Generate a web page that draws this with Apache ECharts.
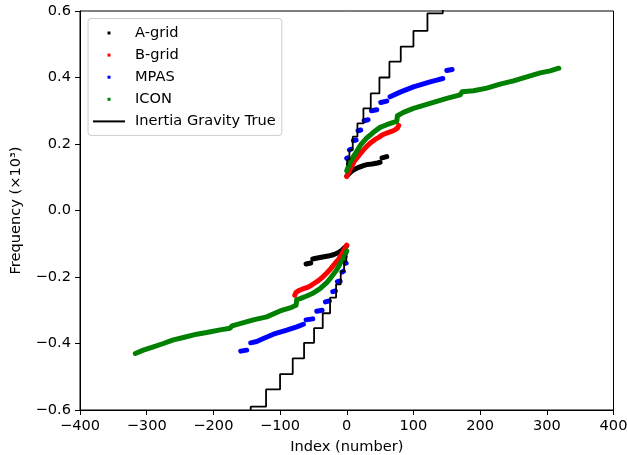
<!DOCTYPE html>
<html><head><meta charset="utf-8">
<script src="https://cdn.jsdelivr.net/npm/echarts@6/dist/echarts.min.js"></script>
<style>html,body{margin:0;padding:0;background:#fff}#c{width:627px;height:455px}</style>
</head><body><div id="c"></div>
<script>
// ---- data ----
const seriesNames = ['A-grid', 'B-grid', 'MPAS', 'ICON', 'Inertia Gravity True'];
const seriesColors = ['#000000', '#ff0000', '#0000ff', '#008000', '#000000'];

// A-grid: segments of [index, frequency]
const agridSegments = [
  [[0,0.104],[4,0.112],[8,0.119],[12,0.124],[16,0.128],[20,0.131],[25,0.135],[30,0.138],[38,0.140],[46,0.143],[50,0.145]],
  [[53,0.158],[60,0.162]],
  [[0,-0.106],[-4,-0.113],[-8,-0.121],[-14,-0.128],[-20,-0.133],[-28,-0.137],[-36,-0.140],[-44,-0.143],[-51,-0.146]],
  [[-54,-0.158],[-61,-0.161]]
];
// B-grid
const bgridSegments = [
  [[0,0.102],[4,0.120],[8,0.135],[12,0.150],[18,0.165],[24,0.180],[30,0.193],[36,0.204],[42,0.213],[48,0.220],[54,0.228],[60,0.233],[66,0.237],[72,0.242],[76,0.248],[78,0.256]],
  [[0,-0.104],[-4,-0.118],[-8,-0.132],[-12,-0.146],[-18,-0.160],[-24,-0.175],[-30,-0.188],[-36,-0.200],[-42,-0.210],[-48,-0.218],[-54,-0.226],[-60,-0.232],[-66,-0.236],[-72,-0.241],[-76,-0.246],[-78,-0.255]]
];
// MPAS
const mpasSegments = [
  [[0,0.157],[1,0.158]],
  [[4,0.182],[6,0.184]],
  [[10,0.210],[14,0.212]],
  [[17,0.240],[21,0.242]],
  [[26,0.270],[32,0.273]],
  [[37,0.300],[45,0.303]],
  [[51,0.325],[60,0.329]],
  [[65,0.342],[80,0.356],[100,0.372],[115,0.381],[125,0.387],[135,0.392],[144,0.397]],
  [[150,0.421],[158,0.424]],
  [[-1,-0.158],[-2,-0.159]],
  [[-5,-0.183],[-7,-0.185]],
  [[-10,-0.212],[-14,-0.214]],
  [[-17,-0.242],[-21,-0.244]],
  [[-26,-0.272],[-32,-0.275]],
  [[-37,-0.300],[-45,-0.303]],
  [[-51,-0.326],[-61,-0.329]],
  [[-65,-0.342],[-75,-0.350],[-90,-0.360],[-110,-0.372],[-125,-0.385],[-135,-0.394],[-144,-0.398]],
  [[-150,-0.420],[-159,-0.423]]
];
// ICON
const iconSegments = [
  [[0,0.120],[5,0.145],[10,0.162],[15,0.178],[20,0.195],[25,0.207],[30,0.218],[40,0.235],[50,0.250],[60,0.258],[70,0.265],[75,0.268],[76,0.285],[85,0.295],[100,0.307],[115,0.316],[130,0.325],[150,0.337],[170,0.348],[173,0.357],[190,0.360],[210,0.368],[230,0.380],[250,0.390],[270,0.402],[290,0.414],[305,0.420],[318,0.428]],
  [[0,-0.122],[-5,-0.145],[-10,-0.160],[-15,-0.178],[-20,-0.192],[-25,-0.205],[-30,-0.217],[-40,-0.235],[-50,-0.248],[-60,-0.257],[-70,-0.265],[-75,-0.268],[-76,-0.285],[-85,-0.293],[-100,-0.302],[-120,-0.320],[-140,-0.329],[-160,-0.340],[-172,-0.347],[-175,-0.354],[-190,-0.359],[-210,-0.367],[-225,-0.372],[-245,-0.382],[-260,-0.389],[-275,-0.400],[-290,-0.410],[-305,-0.420],[-317,-0.430]]
];
// Inertia Gravity True: levels (start index of each level, frequency)
const igLevelStartPos = [0,1,4,9,16,25,36,49,64,81,100,121,144,169];
const igLevelValPos   = [0.136,0.153,0.182,0.222,0.262,0.307,0.352,0.400,0.448,0.493,0.540,0.593,0.640];
const igLevelStartNeg = [0,-1,-4,-9,-16,-25,-36,-49,-64,-81,-100,-121,-144,-169];
const igLevelValNeg   = [-0.136,-0.153,-0.183,-0.222,-0.262,-0.309,-0.354,-0.398,-0.445,-0.492,-0.538,-0.590,-0.640];

// ---- chart ----
const FONT = 'DejaVu Sans';
const FS = 14.6;
function stepPoints(starts, vals) {
  const pts = [];
  for (let i = 0; i < vals.length; i++) {
    pts.push([starts[i], vals[i]]);
    pts.push([starts[i + 1], vals[i]]);
  }
  return pts;
}
function band(name, color, segs, z) {
  return segs.map(seg => ({
    type: 'line', name: name, data: seg, symbol: 'none', showSymbol: false,
    lineStyle: { color: color, width: 5, cap: 'round', join: 'round' },
    itemStyle: { color: color }, silent: true, animation: false, z: z
  }));
}
const series = [].concat(
  band(seriesNames[0], seriesColors[0], agridSegments, 2),
  band(seriesNames[1], seriesColors[1], bgridSegments, 3),
  band(seriesNames[2], seriesColors[2], mpasSegments, 4),
  band(seriesNames[3], seriesColors[3], iconSegments, 5),
  [stepPoints(igLevelStartPos, igLevelValPos), stepPoints(igLevelStartNeg, igLevelValNeg)].map(d => ({
    type: 'line', name: seriesNames[4], data: d, symbol: 'none', showSymbol: false,
    lineStyle: { color: seriesColors[4], width: 1.8 }, itemStyle: { color: seriesColors[4] },
    silent: true, animation: false, z: 6
  }))
);
const sq = 'path://M0,0M37,10M14.5,3.5h3v3h-3z';
const ln = 'path://M0,0M37,10M0,4h32v2h-32z';
function fmt(v, d) {
  if (Math.abs(v) < 1e-9) return (0).toFixed(d);
  const s = Math.abs(v).toFixed(d);
  return v < 0 ? '\u2212' + s : s;
}
const chart = echarts.init(document.getElementById('c'), null, { renderer: 'canvas' });
chart.setOption({
  animation: false,
  backgroundColor: '#ffffff',
  grid: { left: 80, right: 13.5, top: 11, bottom: 45, containLabel: false, outerBoundsMode: 'none',
          show: true, borderColor: '#000', borderWidth: 1, backgroundColor: 'transparent' },
  legend: {
    orient: 'vertical', left: 88, top: 18.5,
    padding: [7, 6, 6.5, 5], itemGap: 7.1, itemWidth: 37, itemHeight: 10,
    backgroundColor: 'rgba(255,255,255,0.8)', borderColor: '#cccccc', borderWidth: 1, borderRadius: 3,
    textStyle: { fontFamily: FONT, fontSize: FS, color: '#000', lineHeight: FS },
    itemStyle: { borderWidth: 0 },
    selectedMode: false,
    data: [
      { name: seriesNames[0], icon: sq },
      { name: seriesNames[1], icon: sq },
      { name: seriesNames[2], icon: sq },
      { name: seriesNames[3], icon: sq },
      { name: seriesNames[4], icon: ln }
    ]
  },
  xAxis: {
    type: 'value', min: -400, max: 400, interval: 100,
    name: 'Index (number)', nameLocation: 'middle', nameGap: 30,
    nameTextStyle: { fontFamily: FONT, fontSize: FS, color: '#000' },
    axisLine: { show: true, onZero: false, lineStyle: { color: '#000', width: 1 } },
    axisTick: { show: true, inside: false, length: 5, lineStyle: { color: '#000', width: 1 } },
    axisLabel: { fontFamily: FONT, fontSize: FS, color: '#000', margin: 9, formatter: v => fmt(v, 0) },
    splitLine: { show: false }
  },
  yAxis: {
    type: 'value', min: -0.6, max: 0.6, interval: 0.2,
    name: 'Frequency (\u00d710\u00b3)', nameLocation: 'middle', nameGap: 56,
    nameTextStyle: { fontFamily: FONT, fontSize: FS, color: '#000' },
    axisLine: { show: true, onZero: false, lineStyle: { color: '#000', width: 1 } },
    axisTick: { show: true, inside: false, length: 5, lineStyle: { color: '#000', width: 1 } },
    axisLabel: { fontFamily: FONT, fontSize: FS, color: '#000', margin: 9, formatter: v => fmt(v, 1) },
    splitLine: { show: false }
  },
  series: series
});
</script>
</body></html>
